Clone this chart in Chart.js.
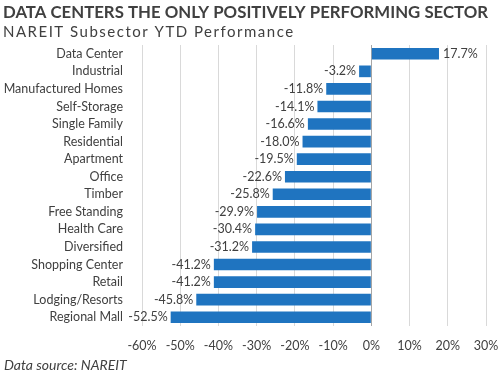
<!DOCTYPE html>
<html>
<head>
<meta charset="utf-8">
<script src="https://cdn.jsdelivr.net/npm/chart.js@4"></script>
<style>
  html, body { margin: 0; padding: 0; background: #fff; }
  #wrap { width: 500px; height: 375px; position: relative; }
</style>
</head>
<body>
<div id="wrap"><canvas id="myChart"></canvas></div>
<script>
var sectores = ['Data Center', 'Industrial', 'Manufactured Homes', 'Self-Storage', 'Single Family',
  'Residential', 'Apartment', 'Office', 'Timber', 'Free Standing', 'Health Care', 'Diversified',
  'Shopping Center', 'Retail', 'Lodging/Resorts', 'Regional Mall'];
var rendimiento = [17.7, -3.2, -11.8, -14.1, -16.6, -18.0, -19.5, -22.6, -25.8, -29.9, -30.4, -31.2,
  -41.2, -41.2, -45.8, -52.5];
var ticksX = [-60, -50, -40, -30, -20, -10, 0, 10, 20, 30];

var titulo = 'DATA CENTERS THE ONLY POSITIVELY PERFORMING SECTOR';
var subtitulo = 'NAREIT Subsector YTD Performance';
var fuente = 'Data source: NAREIT';

var fontFam = 'Lato, "Open Sans", sans-serif';
var ctx = document.getElementById('myChart').getContext('2d');

// textos de cabecera, pie y etiquetas de datos
var textos = {
  id: 'textos',
  afterDatasetsDraw: function(chart) {
    var c = chart.ctx;
    c.save();
    c.fillStyle = '#404040';
    c.textBaseline = 'middle';
    c.textAlign = 'left';
    c.font = 'bold 16.8px ' + fontFam;
    c.letterSpacing = '0px';
    c.fillText(titulo, 3, 13);
    c.font = '15px ' + fontFam;
    c.letterSpacing = '1.5px';
    c.fillText(subtitulo, 3, 32);
    c.letterSpacing = '0px';
    c.font = 'italic 14px ' + fontFam;
    c.fillText(fuente, 4, 365);

    // etiquetas de valores
    c.font = '12.5px ' + fontFam;
    var meta = chart.getDatasetMeta(0);
    meta.data.forEach(function(bar, i) {
      var v = rendimiento[i];
      var txt = v.toFixed(1) + '%';
      if (v >= 0) {
        c.textAlign = 'left';
        c.fillText(txt, bar.x + 4, bar.y);
      } else {
        c.textAlign = 'right';
        c.fillText(txt, bar.x - 3, bar.y);
      }
    });
    c.restore();
  }
};

var myChart = new Chart(ctx, {
  type: 'bar',
  data: {
    labels: sectores,
    datasets: [{
      data: rendimiento,
      backgroundColor: '#1f74c0',
      borderWidth: 0,
      barPercentage: 0.7,
      categoryPercentage: 0.95
    }]
  },
  options: {
    indexAxis: 'y',
    responsive: true,
    maintainAspectRatio: false,
    animation: false,
    layout: { padding: { top: 45, right: 14, bottom: 0, left: 0 } },
    plugins: {
      legend: { display: false },
      tooltip: { enabled: false }
    },
    scales: {
      x: {
        min: -60,
        max: 30,
        afterFit: function(scale) {
          scale.height = 49;
          scale.paddingLeft = 0;
          scale.paddingRight = 0;
        },
        afterBuildTicks: function(scale) {
          scale.ticks = ticksX.map(function(v) { return { value: v }; });
        },
        ticks: {
          color: '#404040',
          font: { family: fontFam, size: 12.5 },
          padding: 12,
          maxRotation: 0,
          callback: function(v) { return v + '%'; }
        },
        grid: {
          drawTicks: false,
          color: function(c) { return c.tick && c.tick.value === 0 ? '#a6a6a6' : '#d9d9d9'; }
        },
        border: { display: false }
      },
      y: {
        afterFit: function(scale) {
          scale.width = 142;
          scale.paddingTop = 0;
          scale.paddingBottom = 0;
        },
        ticks: {
          color: '#404040',
          font: { family: fontFam, size: 12.5 },
          padding: 19,
          autoSkip: false
        },
        grid: { display: false, drawTicks: false },
        border: { display: false }
      }
    }
  },
  plugins: [textos]
});
</script>
</body>
</html>
